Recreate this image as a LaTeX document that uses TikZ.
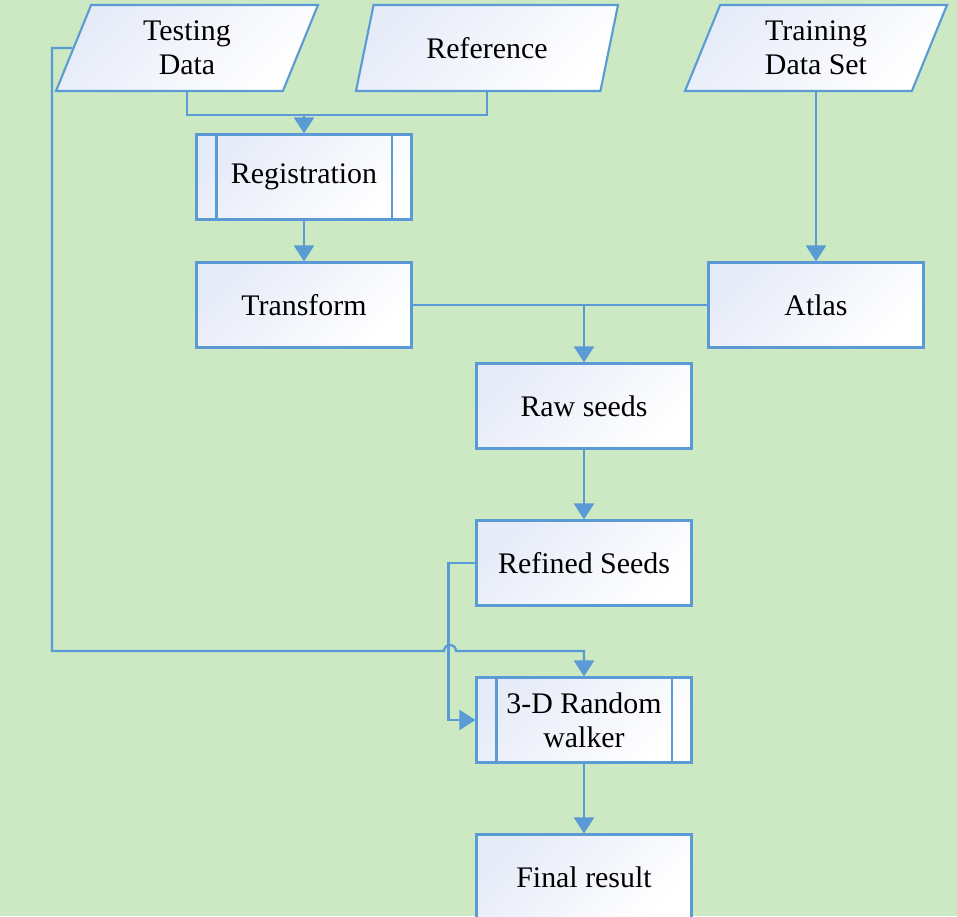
\documentclass[tikz,border=0pt]{standalone}
\usepackage{fontspec}
\setmainfont{LiberationSerif}[Extension=.ttf,UprightFont=*-Regular,BoldFont=*-Bold,ItalicFont=*-Italic,BoldItalicFont=*-BoldItalic]
\usepackage{xcolor}
\usepackage{tikz}
\usetikzlibrary{arrows.meta,shapes.geometric}
\definecolor{cbg}{HTML}{CCE9C3}
\definecolor{cline}{HTML}{5B9BD5}
\definecolor{cfill}{HTML}{E6EBF8}
\tikzset{>={Triangle[length=3.2mm,width=4mm]},
  box/.style={draw=cline,line width=1.2pt,top color=cfill,bottom color=white,shading angle=45,
    minimum width=4.3cm,minimum height=1.7cm,align=center,font=\rmfamily\fontsize{17}{19.5}\selectfont},
  io/.style={box,trapezium,trapezium left angle=62,trapezium right angle=118,
    trapezium stretches body,minimum width=5.24cm,minimum height=1.72cm},
  link/.style={draw=cline,line width=1.3pt},
  arr/.style={link,->,cline}}

\begin{document}
\begin{tikzpicture}

% ============ background ============
\useasboundingbox (0,0) rectangle (19.14,-18.32);
\fill[cbg] (0,0) rectangle (19.14,-18.32);

% ============ inputs ============
\node[io] (tdata) at (3.74,-0.96) {Testing\\Data};
\node[io] (refer) at (9.74,-0.96) {Reference};
\node[io] (train) at (16.32,-0.96) {Training\\Data Set};

% ============ processing chain ============
\node[box] (regis) at (6.08,-3.54) {Registration};
\node[box] (trans) at (6.08,-6.1) {Transform};
\node[box] (atlas) at (16.32,-6.1) {Atlas};
\node[box] (raw) at (11.68,-8.12) {Raw seeds};
\node[box] (refin) at (11.68,-11.26) {Refined Seeds};
\node[box] (walk) at (11.68,-14.4) {3-D Random\\walker};
\node[box] (final) at (11.68,-17.54) {Final result};
% side bars of the predefined-process boxes
\foreach \n in {regis,walk}
  \draw[cline,line width=1.2pt] ([xshift=0.42cm]\n.north west) -- ([xshift=0.42cm]\n.south west)
              ([xshift=-0.42cm]\n.north east) -- ([xshift=-0.42cm]\n.south east);

% ============ connectors ============
\coordinate (merge) at (6.08,-2.3);
\draw[link] (tdata.center |- tdata.south) |- (merge);
\draw[link] (refer.center |- refer.south) |- (merge);
\draw[arr] (merge) -- (regis.north);
\draw[arr] (regis) -- (trans);
\draw[arr] (train.center |- train.south) -- (atlas.north);
\draw[link] (trans.east) -- (atlas.west);
\draw[arr] (raw.north |- trans.east) -- (raw.north);
\draw[arr] (raw) -- (refin);
\draw[arr] (refin.west) -- ++(-0.54,0) |- (walk.west);
% testing data bypass, hopping over the refined-seeds line
\coordinate (bypass) at (1.04,-13.02);
\coordinate (hop) at (8.88,-13.02);
\draw[arr] (tdata.west) -| (bypass) -- (hop) arc[start angle=180,end angle=0,radius=0.12] -| (walk.north);
\draw[arr] (walk) -- (final);

\end{tikzpicture}
\end{document}
